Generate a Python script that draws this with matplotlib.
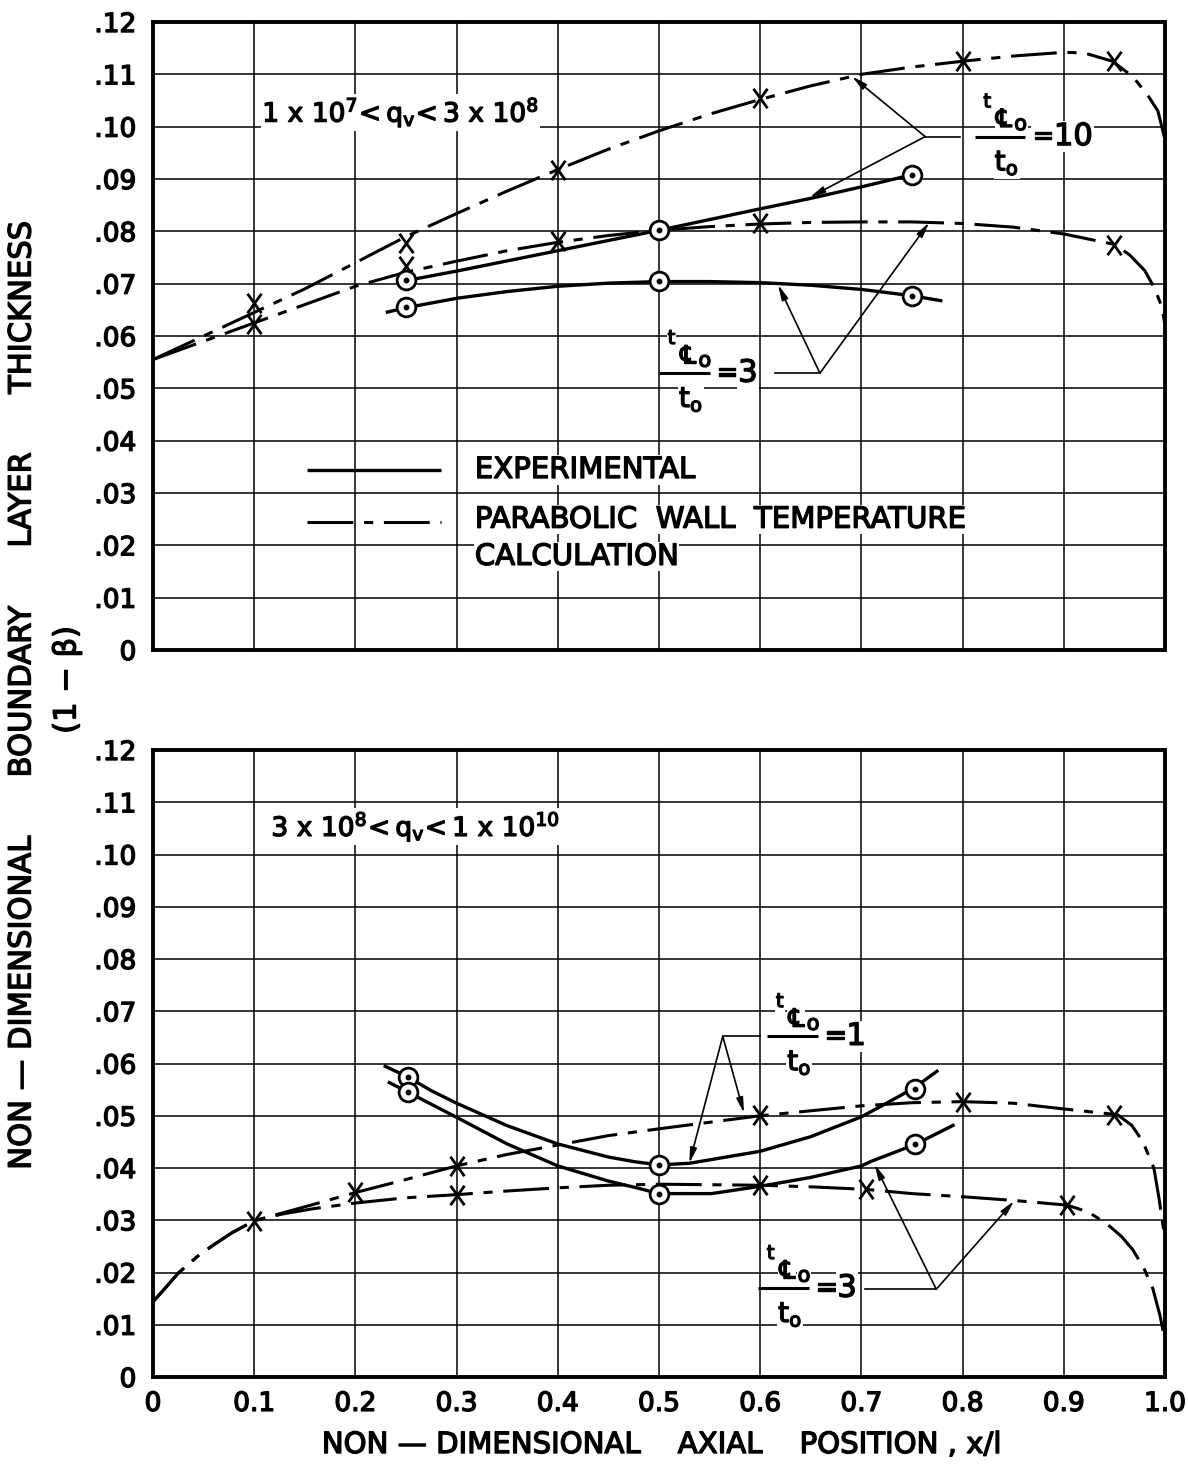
import matplotlib
matplotlib.use('Agg')
import matplotlib.pyplot as plt
import matplotlib.patheffects as pe
from matplotlib.path import Path

# ---------------- upper chart : 1x10^7 < qv < 3x10^8 ----------------
# parabolic wall temperature calculation, tCo/to = 10
top_calc10_x = [0.0, 0.05, 0.1, 0.15, 0.2, 0.25, 0.3, 0.35, 0.4, 0.45, 0.5, 0.55,
                0.6, 0.65, 0.7, 0.75, 0.8, 0.85, 0.9, 0.92, 0.948, 0.968, 0.983, 0.993, 1.0]
top_calc10_y = [0.0555, 0.0600, 0.0645, 0.0690, 0.0740, 0.0790, 0.0834, 0.0877, 0.0918,
                0.0957, 0.0992, 0.1024, 0.1052, 0.1078, 0.1100, 0.1114, 0.1125, 0.1135,
                0.1142, 0.1141, 0.1125, 0.1096, 0.1060, 0.1030, 0.0975]
top_calc10_mx = [0.1, 0.25, 0.4, 0.6, 0.8, 0.95]
top_calc10_my = [0.0663, 0.0778, 0.0918, 0.1054, 0.1125, 0.1125]

# parabolic wall temperature calculation, tCo/to = 3
top_calc3_x = [0.0, 0.05, 0.1, 0.15, 0.2, 0.25, 0.3, 0.35, 0.4, 0.45, 0.5, 0.55, 0.6,
               0.65, 0.7, 0.75, 0.8, 0.85, 0.9, 0.95, 0.965, 0.98, 0.99, 0.997, 1.0]
top_calc3_y = [0.0555, 0.0590, 0.0625, 0.0660, 0.0695, 0.0722, 0.0743, 0.0763, 0.0779,
               0.0792, 0.0802, 0.0809, 0.0814, 0.0817, 0.0818, 0.0818, 0.0815, 0.0808,
               0.0795, 0.0775, 0.0755, 0.0725, 0.0690, 0.0655, 0.0620]
top_calc3_mx = [0.1, 0.25, 0.4, 0.6, 0.95]
top_calc3_my = [0.0622, 0.0733, 0.0781, 0.0815, 0.0773]

# experimental, tCo/to = 10
top_exp10_x = [0.245, 0.3, 0.4, 0.5, 0.6, 0.65, 0.7, 0.75]
top_exp10_y = [0.0704, 0.0724, 0.0763, 0.0802, 0.0843, 0.0863, 0.0885, 0.0908]
top_exp10_cx = [0.25, 0.5, 0.75]
top_exp10_cy = [0.0707, 0.0802, 0.0908]

# experimental, tCo/to = 3
top_exp3_x = [0.23, 0.25, 0.3, 0.35, 0.4, 0.45, 0.5, 0.55, 0.6, 0.65, 0.7, 0.75, 0.78]
top_exp3_y = [0.0645, 0.0654, 0.0672, 0.0685, 0.0695, 0.0701, 0.0704, 0.0704, 0.0702,
              0.0697, 0.0689, 0.0677, 0.0667]
top_exp3_cx = [0.25, 0.5, 0.75]
top_exp3_cy = [0.0655, 0.0705, 0.0676]

# ---------------- lower chart : 3x10^8 < qv < 1x10^10 ----------------
# calculation, tCo/to = 1
bot_calc1_x = [0.0, 0.012, 0.025, 0.044, 0.06, 0.078, 0.1, 0.128, 0.158, 0.2, 0.25, 0.3,
               0.35, 0.4, 0.45, 0.5, 0.6, 0.7, 0.75, 0.8, 0.85, 0.9, 0.953, 0.967,
               0.978, 0.989, 0.994, 0.998, 1.0]
bot_calc1_y = [0.0144, 0.0170, 0.0199, 0.0231, 0.0253, 0.0276, 0.0299, 0.0314, 0.0330,
               0.0353, 0.0378, 0.0404, 0.0426, 0.0444, 0.0462, 0.0475, 0.0500, 0.0519,
               0.0525, 0.0527, 0.0524, 0.0513, 0.0502, 0.0482, 0.0451, 0.0400, 0.0343,
               0.0290, 0.0268]
bot_calc1_mx = [0.1, 0.2, 0.3, 0.6, 0.8, 0.95]
bot_calc1_my = [0.0299, 0.0355, 0.0404, 0.0502, 0.0527, 0.0502]

# calculation, tCo/to = 3
bot_calc3_x = [0.0, 0.012, 0.025, 0.044, 0.06, 0.078, 0.1, 0.128, 0.158, 0.2, 0.25, 0.3,
               0.35, 0.4, 0.45, 0.5, 0.6, 0.65, 0.705, 0.75, 0.8, 0.85, 0.903, 0.924,
               0.942, 0.957, 0.968, 0.979, 0.988, 0.995, 0.999, 1.0]
bot_calc3_y = [0.0144, 0.0170, 0.0199, 0.0231, 0.0253, 0.0276, 0.0299, 0.0312, 0.0322,
               0.0333, 0.0343, 0.0349, 0.0356, 0.0362, 0.0367, 0.0369, 0.0367, 0.0364,
               0.0359, 0.0351, 0.0345, 0.0338, 0.0329, 0.0316, 0.0294, 0.0269, 0.0244,
               0.0209, 0.0169, 0.0118, 0.0080, 0.0068]
bot_calc3_mx = [0.3, 0.6, 0.705, 0.903]
bot_calc3_my = [0.0349, 0.0367, 0.0360, 0.0330]

# experimental, tCo/to = 1
bot_exp1_x = [0.228, 0.252, 0.275, 0.3, 0.35, 0.4, 0.45, 0.476, 0.5, 0.53, 0.6, 0.65,
              0.7, 0.722, 0.751, 0.776]
bot_exp1_y = [0.0596, 0.0574, 0.0548, 0.0524, 0.0481, 0.0446, 0.0421, 0.0412, 0.0406,
              0.0409, 0.0432, 0.0460, 0.0498, 0.0521, 0.0552, 0.0587]
bot_exp1_cx = [0.252, 0.5, 0.753]
bot_exp1_cy = [0.0574, 0.0406, 0.0552]

# experimental, tCo/to = 3
bot_exp3_x = [0.232, 0.252, 0.3, 0.35, 0.4, 0.45, 0.476, 0.5, 0.552, 0.6, 0.65, 0.7,
              0.71, 0.753, 0.792]
bot_exp3_y = [0.0565, 0.0545, 0.0497, 0.0446, 0.0404, 0.0375, 0.0363, 0.0351, 0.0351,
              0.0365, 0.0382, 0.0404, 0.0413, 0.0445, 0.0483]
bot_exp3_cx = [0.252, 0.5, 0.753]
bot_exp3_cy = [0.0545, 0.0350, 0.0445]

x_ticks = [0.0, 0.1, 0.2, 0.3, 0.4, 0.5, 0.6, 0.7, 0.8, 0.9, 1.0]
x_tick_labels = ['0', '0.1', '0.2', '0.3', '0.4', '0.5', '0.6', '0.7', '0.8', '0.9', '1.0']
y_ticks = [0.0, 0.01, 0.02, 0.03, 0.04, 0.05, 0.06, 0.07, 0.08, 0.09, 0.10, 0.11, 0.12]
y_tick_labels = ['0', '.01', '.02', '.03', '.04', '.05', '.06', '.07', '.08', '.09',
                 '.10', '.11', '.12']

plt.rcParams['font.family'] = ['DejaVu Sans']
heavy = [pe.withStroke(linewidth=1.0, foreground='k')]

calc_style = dict(color='k', lw=2.2, ls=(0, (15, 3.5, 3, 3.5)), zorder=3)
exp_style = dict(color='k', lw=2.4, solid_capstyle='butt', zorder=3)

# letter-like X marker
xmark = Path([(-0.36, -0.5), (0.36, 0.5), (-0.36, 0.5), (0.36, -0.5)],
             [Path.MOVETO, Path.LINETO, Path.MOVETO, Path.LINETO])

fig = plt.figure(figsize=(11.88, 14.74), dpi=100)
W, H = 1188, 1474
ax_top = fig.add_axes([153 / W, 1 - 650 / H, 1012 / W, 628 / H])
ax_bot = fig.add_axes([153 / W, 1 - 1377 / H, 1012 / W, 627 / H])


def setup(ax, show_x):
    ax.set_xlim(0, 1)
    ax.set_ylim(0, 0.12)
    ax.set_axisbelow(True)
    ax.set_xticks(x_ticks)
    ax.set_yticks(y_ticks)
    ax.set_yticklabels(y_tick_labels, fontsize=19)
    if show_x:
        ax.set_xticklabels(x_tick_labels, fontsize=19)
    else:
        ax.set_xticklabels([])
    ax.grid(True, color='k', lw=1.1)
    ax.tick_params(length=0)
    ax.tick_params(axis='y', pad=12)
    ax.tick_params(axis='x', pad=10)
    for sp in ax.spines.values():
        sp.set_linewidth(2.8)
    for lab in ax.get_xticklabels() + ax.get_yticklabels():
        lab.set_path_effects(heavy)


def calc_curve(ax, x, y, mx, my):
    ax.plot(x, y, **calc_style)
    ax.plot(mx, my, ls='none', marker=xmark, ms=14, mew=2.0, mec='k', mfc='none', zorder=5)


def exp_curve(ax, x, y, cx, cy):
    ax.plot(x, y, **exp_style)
    ax.plot(cx, cy, ls='none', marker='o', ms=13.5, mew=2.0, mec='k', mfc='white', zorder=5)
    ax.plot(cx, cy, ls='none', marker='o', ms=3.2, color='k', zorder=6)


def put(ax, s, xy, dx, dy, size, ha='center'):
    ax.annotate(s, xy=xy, xytext=(dx, dy), textcoords='offset points', ha=ha, va='center',
                fontsize=size, path_effects=heavy, zorder=4,
                bbox=dict(fc='white', ec='none', pad=0.8))


def ratio_label(ax, x0, y0, value):
    # "tCo / to = value", offsets in points from the left end of the fraction bar
    ax.plot([x0, x0 + 0.050], [y0, y0], color='k', lw=2.2, solid_capstyle='butt', zorder=7)
    put(ax, 't', (x0, y0), 9, 25, 14)
    put(ax, '\u2104', (x0, y0), 21, 12, 18)
    put(ax, 'o', (x0, y0), 33, 9, 15)
    put(ax, r'$\mathregular{t_o}$', (x0, y0), 23, -19, 20)
    put(ax, '=', (x0, y0), 49, 0, 19)
    put(ax, value, (x0, y0), 57, 0, 22, ha='left')


def leader(ax, line_x0, line_x1, y, vertex, tips):
    ax.plot([line_x0, line_x1], [y, y], color='k', lw=1.2, zorder=6)
    for tip in tips:
        ax.annotate('', xy=tip, xytext=vertex,
                    arrowprops=dict(arrowstyle='-|>,head_length=0.9,head_width=0.2',
                                    lw=1.2, color='k', shrinkA=0, shrinkB=0),
                    zorder=6)


# upper chart
setup(ax_top, False)
calc_curve(ax_top, top_calc10_x, top_calc10_y, top_calc10_mx, top_calc10_my)
calc_curve(ax_top, top_calc3_x, top_calc3_y, top_calc3_mx, top_calc3_my)
exp_curve(ax_top, top_exp10_x, top_exp10_y, top_exp10_cx, top_exp10_cy)
exp_curve(ax_top, top_exp3_x, top_exp3_y, top_exp3_cx, top_exp3_cy)

ratio_label(ax_top, 0.812, 0.0981, '10')
leader(ax_top, 0.763, 0.797, 0.0981, (0.763, 0.0981), [(0.6907, 0.1096), (0.649, 0.0865)])
ratio_label(ax_top, 0.500, 0.0529, '3')
leader(ax_top, 0.6146, 0.659, 0.0529, (0.659, 0.0529), [(0.6176, 0.0698), (0.767, 0.0817)])

ax_top.text(0.108, 0.1027, r'$\mathregular{1\ x\ 10^{7}\!< q_{v}\!< 3\ x\ 10^{8}}$',
            fontsize=19, va='center', path_effects=heavy, zorder=4,
            bbox=dict(fc='white', ec='none', pad=1))

# legend
ax_top.plot([0.152, 0.285], [0.0344, 0.0344], **exp_style)
ax_top.plot([0.152, 0.285], [0.0244, 0.0244], **calc_style)
for s, yy in [('EXPERIMENTAL', 0.0344), ('PARABOLIC  WALL  TEMPERATURE', 0.0249),
              ('CALCULATION', 0.0178)]:
    ax_top.text(0.318, yy, s, fontsize=21, va='center', path_effects=heavy, zorder=4,
                bbox=dict(fc='white', ec='none', pad=0.5))

# lower chart
setup(ax_bot, True)
calc_curve(ax_bot, bot_calc1_x, bot_calc1_y, bot_calc1_mx, bot_calc1_my)
calc_curve(ax_bot, bot_calc3_x, bot_calc3_y, bot_calc3_mx, bot_calc3_my)
exp_curve(ax_bot, bot_exp1_x, bot_exp1_y, bot_exp1_cx, bot_exp1_cy)
exp_curve(ax_bot, bot_exp3_x, bot_exp3_y, bot_exp3_cx, bot_exp3_cy)

ratio_label(ax_bot, 0.607, 0.0652, '1')
leader(ax_bot, 0.563, 0.600, 0.0652, (0.563, 0.0652), [(0.584, 0.0505), (0.530, 0.0409)])
ratio_label(ax_bot, 0.598, 0.0170, '3')
leader(ax_bot, 0.704, 0.774, 0.0168, (0.774, 0.0168), [(0.713, 0.0407), (0.851, 0.0337)])

ax_bot.text(0.117, 0.1053, r'$\mathregular{3\ x\ 10^{8}\!< q_{v}\!< 1\ x\ 10^{10}}$',
            fontsize=19, va='center', path_effects=heavy, zorder=4,
            bbox=dict(fc='white', ec='none', pad=1))

# axis titles
fig.text(22 / W, 1 - 696 / H,
         'NON \u2014 DIMENSIONAL      BOUNDARY      LAYER      THICKNESS',
         rotation=90, ha='center', va='center', fontsize=22, path_effects=heavy)
fig.text(67 / W, 1 - 680 / H, '(1 \u2212 \u03b2)', rotation=90, ha='center', va='center',
         fontsize=22, path_effects=heavy)
fig.text(661 / W, 1 - 1445 / H, 'NON \u2014 DIMENSIONAL    AXIAL    POSITION , x/l',
         ha='center', va='center', fontsize=21, path_effects=heavy)

fig.savefig('out.png', dpi=100)
